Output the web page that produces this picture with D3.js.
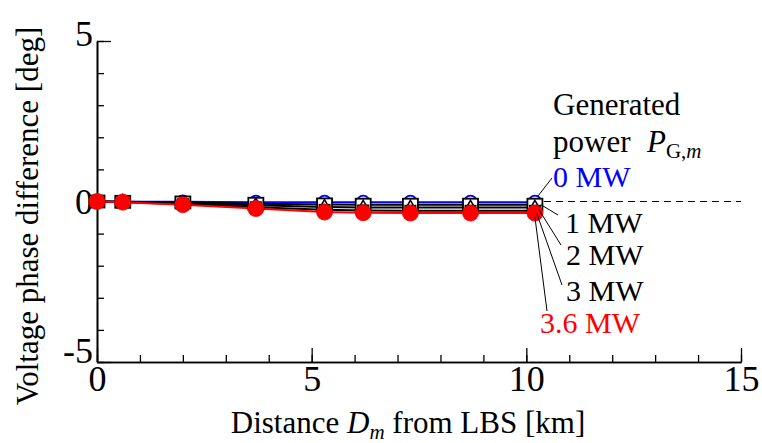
<!DOCTYPE html>
<html><head><meta charset="utf-8">
<script src="https://cdn.jsdelivr.net/npm/d3@7"></script>
<style>
html,body{margin:0;padding:0;background:#fff;}
text{font-family:"Liberation Serif","Times New Roman",serif;}
</style></head>
<body><svg id="c" width="762" height="443"></svg>
<script>
// ---- data ----
const distances = [0, 0.6, 2.0, 3.7, 5.3, 6.2, 7.3, 8.7, 10.2];
const p0MW  = [0, -0.01, -0.01, -0.02, -0.02, -0.02, -0.02, -0.02, -0.02];
const p1MW  = [0, -0.01, -0.03, -0.07, -0.09, -0.10, -0.10, -0.10, -0.10];
const p2MW  = [0, -0.01, -0.06, -0.12, -0.17, -0.19, -0.19, -0.19, -0.19];
const p3MW  = [0, -0.02, -0.08, -0.18, -0.26, -0.28, -0.29, -0.29, -0.29];
const p36MW = [0, -0.02, -0.10, -0.22, -0.33, -0.35, -0.36, -0.36, -0.36];
const seriesLabels = ["0 MW", "1 MW", "2 MW", "3 MW", "3.6 MW"];
const xTickLabels = [0, 5, 10, 15];
const yTickLabels = [-5, 0, 5];

const svg = d3.select("#c");
const x = d3.scaleLinear().domain([0, 15]).range([97, 741]);
const y = d3.scaleLinear().domain([-5, 5]).range([362, 41]);
const fmt = d => String(d).replace("\u2212", "-");

// axes
const gx = svg.append("g").attr("transform", `translate(0,${y(-5)})`);
gx.call(d3.axisBottom(x).tickValues(d3.range(0, 16, 1)).tickSize(-7).tickSizeOuter(0).tickFormat(""));
const gx2 = svg.append("g").attr("transform", `translate(0,${y(-5)})`);
gx2.call(d3.axisBottom(x).tickValues(xTickLabels).tickSize(-14).tickSizeOuter(0).tickPadding(3).tickFormat(fmt));
const gy = svg.append("g").attr("transform", `translate(${x(0)},0)`);
gy.call(d3.axisLeft(y).tickValues(d3.range(-5, 6, 1)).tickSize(-7).tickSizeOuter(0).tickFormat(""));
const gy2 = svg.append("g").attr("transform", `translate(${x(0)},0)`);
gy2.call(d3.axisLeft(y).tickValues(yTickLabels).tickSize(-14).tickSizeOuter(0).tickPadding(4).tickFormat(fmt));
svg.selectAll(".domain").attr("stroke", "#000").attr("stroke-width", 1.6);
svg.selectAll(".tick line").attr("stroke", "#000").attr("stroke-width", 1.3);
svg.selectAll(".tick text").attr("font-family", "Liberation Serif").attr("font-size", 36).attr("fill", "#000");
gy2.selectAll(".tick text").attr("dy", d => d === 5 ? "0.12em" : d === -5 ? "0.02em" : "0.32em");

// dashed zero line
svg.append("line").attr("x1", x(10.2) + 9).attr("x2", x(15)).attr("y1", y(0)).attr("y2", y(0))
  .attr("stroke", "#000").attr("stroke-width", 1.2).attr("stroke-dasharray", "7,5");

const series = [
  {v: p0MW, color: "#0000ff", shape: "circleOpen"},
  {v: p1MW, color: "#000", shape: "square"},
  {v: p2MW, color: "#000", shape: "triangle"},
  {v: p3MW, color: "#000", shape: "squareFilled"},
  {v: p36MW, color: "#ff0000", shape: "circleFilled"}
];
const line = d3.line().x((d, i) => x(distances[i])).y(d => y(d));
series.forEach(s => {
  svg.append("path").datum(s.v).attr("d", line).attr("fill", "none").attr("stroke", s.color).attr("stroke-width", 2);
});
series.forEach(s => {
  const g = svg.append("g");
  s.v.forEach((d, i) => {
    const cx = x(distances[i]), cy = y(d);
    if (s.shape === "circleOpen") g.append("circle").attr("cx", cx).attr("cy", cy).attr("r", 6.5).attr("fill", "#fff").attr("stroke", s.color).attr("stroke-width", 1.8);
    else if (s.shape === "square") g.append("rect").attr("x", cx - 7.5).attr("y", cy - 6).attr("width", 15).attr("height", 12).attr("fill", "#fff").attr("stroke", "#000").attr("stroke-width", 1.8);
    else if (s.shape === "triangle") g.append("path").attr("d", d3.symbol(d3.symbolTriangle, 70)()).attr("transform", `translate(${cx},${cy})`).attr("fill", "#fff").attr("stroke", "#000").attr("stroke-width", 1.5);
    else if (s.shape === "squareFilled") g.append("rect").attr("x", cx - 6).attr("y", cy - 6).attr("width", 12).attr("height", 12).attr("fill", "#000");
    else g.append("circle").attr("cx", cx).attr("cy", cy).attr("r", 8).attr("fill", s.color).attr("stroke", "#e00").attr("stroke-width", 0.8);
  });
});

// legend title
svg.append("text").attr("x", 553).attr("y", 115).attr("font-size", 31).text("Generated");
const t2 = svg.append("g");
t2.append("text").attr("x", 553).attr("y", 152).attr("font-size", 31).text("power");
const t3 = t2.append("text").attr("x", 647).attr("y", 152).attr("font-size", 31);
t3.append("tspan").attr("font-style", "italic").text("P");
t3.append("tspan").attr("font-size", 21).attr("dy", 6).text("G,");
t3.append("tspan").attr("font-size", 21).attr("font-style", "italic").text("m");

// series labels with leader lines
const labelPos = [[553, 187], [565, 233], [566, 265], [566, 301], [540, 333]];
const leaderEnd = [[552, 178], [558, 215], [561, 245], [562, 285], [547, 311]];
const leaderStartOffset = [[3, -6], [6, 0], [4, 2], [2, 3], [0, 4]];
const last = distances.length - 1;
series.forEach((s, i) => {
  const sx = x(distances[last]) + leaderStartOffset[i][0];
  const sy = y(s.v[last]) + leaderStartOffset[i][1];
  svg.append("line").attr("x1", sx).attr("y1", sy).attr("x2", leaderEnd[i][0]).attr("y2", leaderEnd[i][1])
    .attr("stroke", "#000").attr("stroke-width", 1);
  svg.append("text").attr("x", labelPos[i][0]).attr("y", labelPos[i][1]).attr("font-size", 30)
    .attr("fill", s.color).text(seriesLabels[i]);
});

// axis titles
const xt = svg.append("text").attr("x", 408).attr("y", 433).attr("text-anchor", "middle").attr("font-size", 31);
xt.append("tspan").text("Distance ");
xt.append("tspan").attr("font-style", "italic").text("D");
xt.append("tspan").attr("font-style", "italic").attr("font-size", 21).attr("dy", 6).text("m");
xt.append("tspan").attr("dy", -6).text(" from LBS [km]");
svg.append("text").attr("transform", "translate(38,216) rotate(-90)").attr("text-anchor", "middle")
  .attr("font-size", 31).text("Voltage phase difference [deg]");
</script></body></html>
